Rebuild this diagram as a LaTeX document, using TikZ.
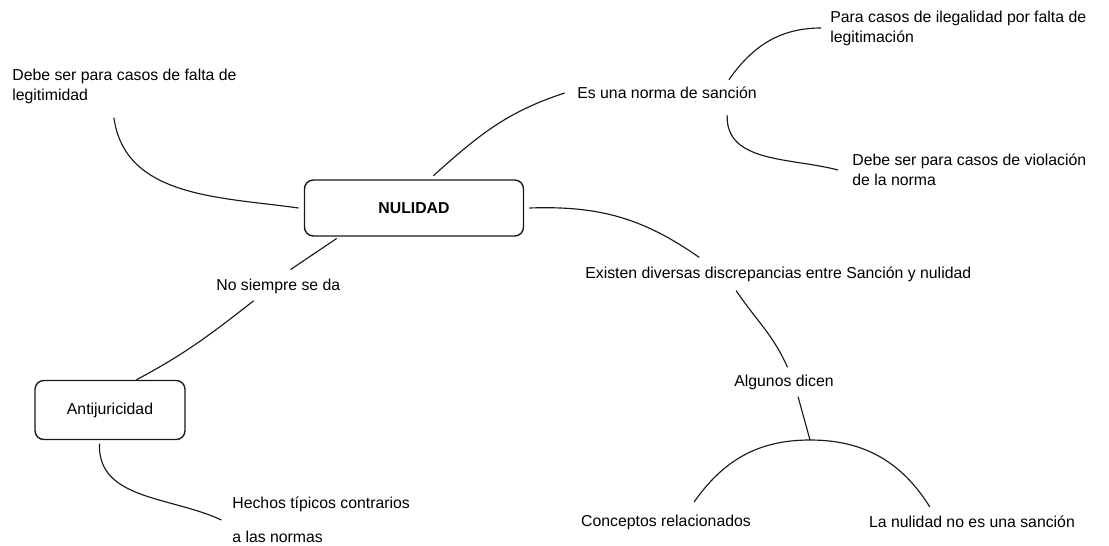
\documentclass[tikz,border=0pt]{standalone}
\usepackage{fontspec}
\setmainfont{Liberation Sans}
\usetikzlibrary{positioning}

\begin{document}
\begin{tikzpicture}
    [x=0.02cm, y=0.02cm,
    box/.style={rectangle,rounded corners=5pt,draw=black!90,line width=0.8pt,
                inner sep=0pt,font=\fontsize{9}{11}\selectfont},
    leaf/.style={inner sep=0pt,align=left,font=\fontsize{9}{11.3}\selectfont},
    link/.style={line width=0.65pt,draw=black!90}]

    \useasboundingbox (0,0) rectangle (1109,-545);

    \node[box,minimum width=4.38cm,minimum height=1.12cm,
          font=\fontsize{9}{11}\selectfont\bfseries] (nulidad) at (414,-208) {NULIDAD};
    \node[box,minimum width=3cm,minimum height=1.18cm] (antijuricidad) at (110,-410) {Antijuricidad};

    \node[leaf,anchor=west] (falta legitimidad) at (12,-86) {Debe ser para casos de falta de\\legitimidad};
    \node[leaf,anchor=west] (es norma) at (577,-93) {Es una norma de sanción};
    \node[leaf,anchor=west] (ilegalidad) at (830,-28) {Para casos de ilegalidad por falta de\\legitimación};
    \node[leaf,anchor=west] (violacion) at (852,-170) {Debe ser para casos de violación\\de la norma};
    \node[leaf,anchor=west] (discrepancias) at (585,-274) {Existen diversas discrepancias entre Sanción y nulidad};
    \node[leaf] (algunos) at (784,-382) {Algunos dicen};
    \node[leaf] (relacionados) at (666,-522) {Conceptos relacionados};
    \node[leaf] (no sancion) at (972,-522) {La nulidad no es una sanción};
    \node[leaf,anchor=west] (no siempre) at (216,-286) {No siempre se da};
    \node[leaf,anchor=west] (hechos) at (232,-520) {Hechos típicos contrarios\\[8pt]a las normas};

    \coordinate (split) at (810,-440);

    \draw[link] ([xshift=-6pt,yshift=-8pt]falta legitimidad.south) to[out=-82,in=172] ([xshift=-3pt]nulidad.west);
    \draw[link] ([xshift=11pt,yshift=2pt]nulidad.north) to[out=42,in=198] ([xshift=-7pt]es norma.west);
    \draw[link] ([xshift=-16pt,yshift=4pt]es norma.north east) to[out=55,in=180] ([xshift=-5pt]ilegalidad.west);
    \draw[link] ([xshift=-17pt,yshift=-9pt]es norma.south east) to[out=-92,in=165] ([xshift=-8pt]violacion.west);
    \draw[link] ([xshift=3pt]nulidad.east) to[out=2,in=145] ([xshift=-45pt,yshift=5pt]discrepancias.north);
    \draw[link] ([xshift=-24pt,yshift=-5pt]discrepancias.south) to[out=-56,in=114] ([xshift=2pt,yshift=4pt]algunos.north);
    \draw[link] ([xshift=8pt,yshift=-4pt]algunos.south) -- (split);
    \draw[link] ([xshift=16pt,yshift=7pt]relacionados.north) to[out=55,in=180] (split)
                to[out=0,in=122] ([xshift=-24pt,yshift=5pt]no sancion.north);
    \draw[link] ([xshift=-44pt,yshift=-1pt]nulidad.south) -- ([xshift=7pt,yshift=5pt]no siempre.north);
    \draw[link] ([xshift=-14pt,yshift=-4pt]no siempre.south) to[out=-142,in=28] ([xshift=15pt]antijuricidad.north);
    \draw[link] ([xshift=-6pt,yshift=-2pt]antijuricidad.south) to[out=-92,in=155] ([xshift=-6pt]hechos.west);
\end{tikzpicture}
\end{document}
